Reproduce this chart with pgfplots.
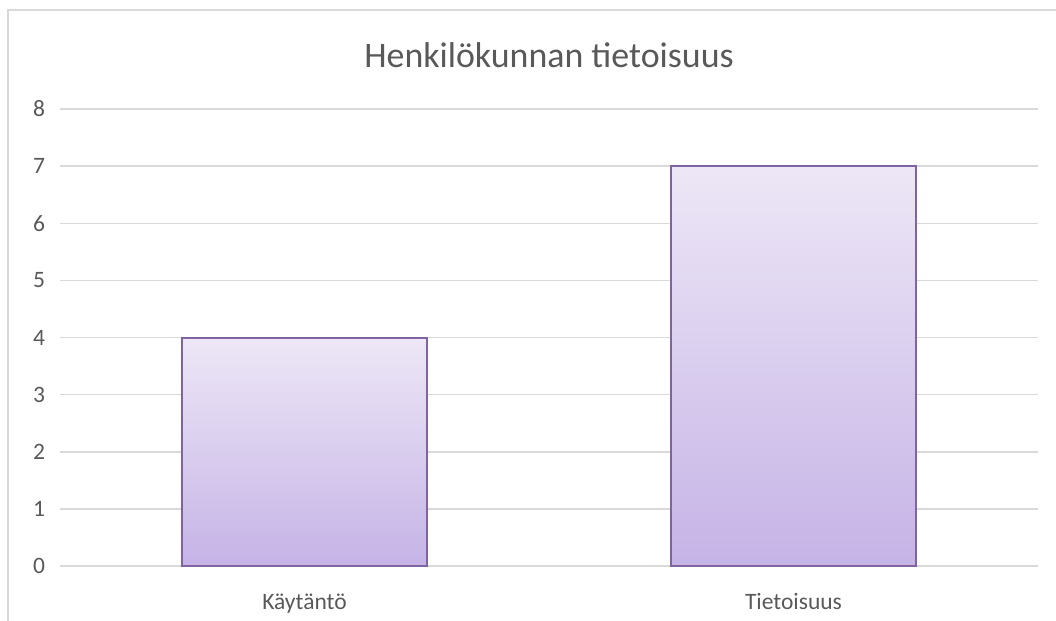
\documentclass[border=0pt]{standalone}
\usepackage{fontspec}
\setmainfont{Carlito}
\usepackage{pgfplots}
\pgfplotsset{compat=1.18}
\definecolor{txt}{HTML}{595959}
\definecolor{gridc}{HTML}{D9D9D9}
\definecolor{barline}{HTML}{8064A2}
\definecolor{bartop}{HTML}{EDE7F6}
\definecolor{barbot}{HTML}{C5B3E6}
\tikzset{purplebar/.style={draw=barline, line width=1bp, top color=bartop, bottom color=barbot}}
\begin{document}
\begin{tikzpicture}
% canvas: 1056x621 px at 0.5bp per px, origin at the axis' lower left
\path[use as bounding box] (-30bp,-27.5bp) rectangle (498bp,283bp);
\draw[gridc, line width=0.75bp] (-26bp,-27.5bp) -- (-26bp,278bp) -- (498bp,278bp);
\begin{axis}[
  at={(0,0)}, anchor=south west,
  scale only axis, width=489bp, height=228.5bp,
  ybar, bar width=122.5bp, bar shift=0pt,
  xmin=-0.5, xmax=1.5, ymin=0, ymax=8,
  xtick={0,1}, xticklabels={Käytäntö,Tietoisuus},
  ytick={0,1,...,8},
  axis line style={draw=none},
  tick style={draw=none},
  ymajorgrids, major grid style={gridc, line width=0.75bp},
  ticklabel style={font=\fontsize{11.8}{14}\selectfont, text=txt},
  yticklabel style={xshift=-4bp},
  xticklabel style={yshift=-6bp},
  /pgf/number format/assume math mode=true,
]
% each bar as its own plot so that each gets its own gradient
\addplot[purplebar] coordinates {(0,4)};
\addplot[purplebar] coordinates {(1,7)};
\end{axis}
\node[text=txt, font=\fontsize{18}{22}\selectfont] at (244.5bp,255.5bp) {Henkilökunnan tietoisuus};
\end{tikzpicture}
\end{document}
